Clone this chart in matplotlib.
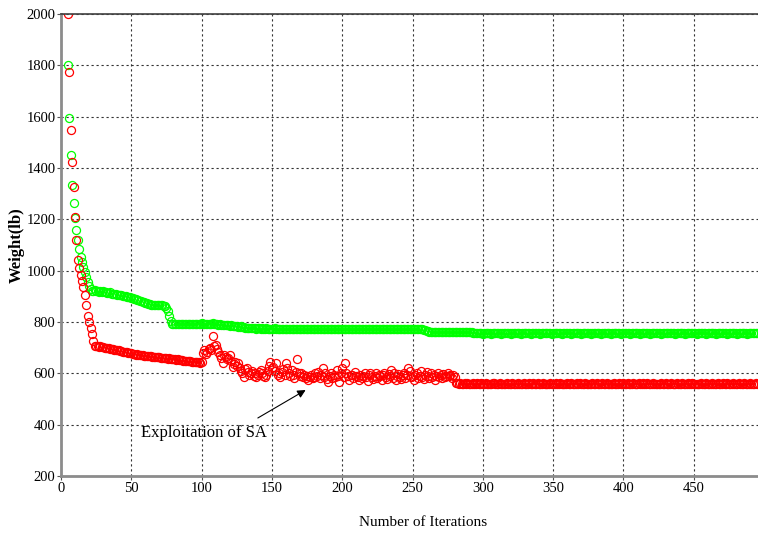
import numpy as np
import matplotlib
matplotlib.use("Agg")
import matplotlib.pyplot as plt

# ---------------- data ----------------
iterations = np.arange(5, 496)  # one point per iteration, 5..495

# Red series (with SA exploitation)
red_drop = [2000, 1775, 1550, 1425, 1325, 1210, 1120, 1040, 1010, 985,
            960, 935, 905, 865, 825, 800, 775, 752, 725, 708]            # 5-24
red_slow = [705, 706, 703, 705, 702, 704,                                  # 25-30
            700, 699, 697, 698, 695, 694, 695, 692, 691, 690,              # 31-40
            689, 687, 688, 685, 684, 683, 684, 681, 680, 678,              # 41-50
            676, 675, 673, 674, 672, 671, 672, 670, 669, 668,              # 51-60
            668, 667, 666, 667, 665, 664, 665, 663, 662, 663,              # 61-70
            661, 660, 661, 659, 658, 657, 658, 656, 655, 656,              # 71-80
            654, 653, 654, 652, 651, 652, 650, 649, 650, 648,              # 81-90
            647, 648, 646, 645, 646, 644, 643, 644, 642, 643]              # 91-100
red_noisy = [680, 690, 675, 685, 695, 700, 690, 745, 705, 710,             # 101-110
             695, 685, 670, 660, 640, 672, 665, 655, 660, 672,             # 111-120
             650, 626, 635, 645, 630, 640, 620, 610, 600, 587,             # 121-130
             615, 620, 605, 595, 600, 610, 590, 600, 587, 595,             # 131-140
             605, 613, 600, 590, 587, 595, 610, 630, 645, 620,             # 141-150
             626, 610, 640, 594, 600, 585, 605, 615, 595, 640,             # 151-160
             620, 600, 590, 612, 595, 580, 605, 655, 600, 590,             # 161-170
             600, 585, 595, 580, 590, 574, 585, 595, 580, 587,             # 171-180
             600, 590, 605, 580, 595, 620, 585, 600, 578, 568,             # 181-190
             590, 600, 580, 595, 585, 613, 590, 568, 600, 620,             # 191-200
             585, 640, 600, 590, 575, 595, 594, 580, 605, 590,             # 201-210
             585, 575, 595, 580, 590, 600, 585, 570, 595, 600,             # 211-220
             585, 578, 590, 600, 580, 595, 588, 575, 592, 600,             # 221-230
             585, 578, 596, 590, 613, 580, 600, 575, 590, 598,             # 231-240
             585, 578, 592, 600, 580, 595, 622, 610, 585, 590,             # 241-250
             575, 595, 600, 582, 590, 610, 585, 578, 595, 605,             # 251-260
             590, 580, 600, 585, 595, 575, 590, 600, 585, 595,             # 261-270
             580, 598, 585, 590, 600, 588, 595, 580, 592, 585]             # 271-280
red_tail = [562, 561, 560, 561, 560, 560, 562, 560, 561, 560, 559, 560, 561, 560, 560, 562, 560, 560, 561, 560,
            560, 561, 560, 559, 560, 560, 561, 563, 560, 560, 560, 561, 560, 560, 559, 560, 561, 560, 560, 560,
            561, 560, 560, 560, 562, 560, 559, 560, 561, 560, 560, 560, 561, 560, 560, 563, 560, 560, 561, 560,
            560, 560, 561, 560, 559, 560, 560, 561, 560, 560, 560, 562, 560, 560, 561, 560, 560, 559, 560, 561,
            560, 560, 561, 560, 560, 560, 562, 560, 561, 560, 560, 560, 561, 560, 559, 560, 560, 561, 560, 560,
            561, 560, 560, 560, 562, 560, 560, 561, 560, 560, 559, 560, 561, 560, 560, 560, 561, 560, 560, 562,
            560, 560, 561, 560, 560, 560, 561, 559, 560, 560, 561, 560, 560, 562, 560, 560, 561, 560, 560, 560,
            561, 560, 560, 560, 559, 560, 561, 560, 560, 562, 560, 560, 560, 561, 560, 560, 560, 561, 560, 560,
            560, 561, 560, 560, 560, 562, 560, 560, 561, 560, 560, 559, 560, 560, 561, 560, 560, 560, 561, 560,
            560, 560, 561, 560, 560, 560, 561, 560, 560, 560, 562, 560, 560, 561, 560, 560, 560, 561, 560, 560,
            560, 561, 560, 560, 560, 561, 560, 560, 560, 561, 560, 560, 560, 561, 560]   # 281-495

# Green series
green_drop = [1800, 1595, 1450, 1335, 1265, 1205, 1160, 1120, 1085, 1055,
              1035, 1015, 995, 975, 955, 940, 928]                          # 5-21
green_slow = [922, 920, 923, 919, 921, 918, 920, 917, 919,                  # 22-30
              916, 917, 914, 913, 915, 911, 910, 911, 908, 907,             # 31-40
              906, 904, 905, 902, 901, 902, 899, 897, 898, 895,             # 41-50
              893, 891, 890, 887, 885, 883, 881, 879, 877, 875,             # 51-60
              873, 871, 869, 868, 866, 866, 865, 867, 865, 866,             # 61-70
              865, 866, 864, 862, 855]                                      # 71-75
green_step = [842, 822, 802, 793, 792]                                      # 76-80
green_mid = [792, 793, 792, 794, 792, 791, 793, 792, 794, 792,              # 81-90
             793, 792, 791, 793, 792, 794, 792, 793, 792, 796,              # 91-100
             793, 792, 794, 792, 793, 792, 791, 798, 793, 792,              # 101-110
             791, 790, 792, 789, 790, 788, 787, 789, 788, 786,              # 111-120
             787, 785, 784, 786, 783, 782, 781, 783, 780, 779]              # 121-130
green_long = [778, 777, 778, 776, 777, 775, 776, 775, 774, 776, 775, 774,
              775, 773, 774, 775, 773, 774, 772, 774, 773, 775, 773, 772,
              774, 773, 772, 773, 774, 772, 773, 772, 774, 773, 772, 773,
              772, 774, 773, 772, 773, 771, 773, 772, 774, 772, 773, 772,
              773, 772, 771, 773, 772, 774, 772, 771, 773, 772, 773, 771,
              772, 773, 772, 771, 773, 772, 774, 772, 771, 772, 773, 771,
              772, 771, 773, 772, 771, 772, 773, 771, 772, 771, 772, 773,
              771, 772, 771, 773, 772, 771, 772, 771, 773, 772, 771, 772,
              771, 773, 772, 771, 772, 771, 772, 773, 771, 772, 771, 772,
              773, 771, 772, 771, 772, 771, 773, 772, 771, 772, 771, 772,
              771, 772, 771, 773, 772, 771, 772, 770, 768, 765, 763, 762]  # 131-262
green_lower = [761, 762, 761, 760, 761, 762, 761, 760, 761, 762, 761,
               760, 761, 762, 761, 760, 761, 761, 762, 760, 761, 760,
               761, 762, 761, 760, 761, 760, 761, 760, 759, 758, 757]      # 263-295
green_tail = [756, 756, 757, 756, 755, 756, 756, 757, 756, 756, 755, 756, 756, 757, 756, 756, 756, 755, 756, 756,
              756, 757, 756, 756, 755, 756, 756, 756, 758, 756, 756, 755, 756, 756, 757, 756, 756, 756, 755, 756,
              756, 756, 757, 756, 756, 755, 756, 756, 756, 757, 756, 756, 756, 755, 756, 756, 757, 756, 756, 756,
              755, 756, 756, 757, 756, 756, 756, 755, 756, 756, 756, 757, 756, 756, 755, 756, 756, 756, 757, 756,
              756, 755, 756, 756, 757, 756, 756, 756, 755, 756, 756, 756, 757, 756, 756, 755, 756, 756, 756, 757,
              756, 756, 755, 756, 756, 757, 756, 756, 756, 755, 756, 756, 757, 756, 756, 756, 755, 756, 756, 756,
              757, 756, 756, 755, 756, 756, 756, 757, 756, 756, 756, 755, 756, 756, 757, 756, 756, 756, 758, 756,
              756, 755, 756, 756, 756, 757, 756, 756, 755, 756, 756, 756, 757, 756, 756, 756, 755, 756, 756, 757,
              756, 756, 756, 755, 756, 756, 756, 757, 756, 756, 755, 756, 756, 756, 757, 756, 756, 756, 755, 756,
              756, 757, 756, 756, 756, 755, 756, 756, 756, 757, 756, 756, 755, 756, 756, 756, 757, 756, 756, 756]  # 296-495

red_values = np.array(red_drop + red_slow + red_noisy + red_tail)
green_values = np.array(green_drop + green_slow + green_step + green_mid +
                        green_long + green_lower + green_tail)

x_ticks = [0, 50, 100, 150, 200, 250, 300, 350, 400, 450]
y_ticks = [200, 400, 600, 800, 1000, 1200, 1400, 1600, 1800, 2000]

annotation_text = 'Exploitation of SA'
arrow_head = (174, 535)
arrow_tail = (140, 426)
text_pos = (57, 366)

# ---------------- figure ----------------
plt.rcParams['font.family'] = ['Liberation Serif', 'DejaVu Serif']

W, H = 758, 536
fig = plt.figure(figsize=(W / 100, H / 100), dpi=100)
left_px, right_px, top_px, bottom_px = 61, 764, 14, 476
ax = fig.add_axes([left_px / W, 1 - bottom_px / H,
                   (right_px - left_px) / W, (bottom_px - top_px) / H])

ax.plot(iterations, green_values, linestyle='none', marker='o', markersize=5.8,
        markerfacecolor='none', markeredgecolor='#00ff00', markeredgewidth=0.9)
ax.plot(iterations, red_values, linestyle='none', marker='o', markersize=5.8,
        markerfacecolor='none', markeredgecolor='#ff0000', markeredgewidth=0.9)

ax.set_xlim(0, 500)
ax.set_ylim(200, 2000)
ax.set_xticks(x_ticks)
ax.set_yticks(y_ticks)

ax.grid(True, color='#333333', linestyle=(0, (2, 2.5)), linewidth=0.8)
ax.set_axisbelow(True)

for side in ['left', 'bottom']:
    ax.spines[side].set_color('#8c8c8c')
    ax.spines[side].set_linewidth(2.0)
ax.spines['top'].set_color('#404040')
ax.spines['top'].set_linewidth(1.2)
ax.spines['right'].set_visible(False)

ax.tick_params(axis='both', direction='out', length=3, width=0.8, color='#555555',
               labelsize=10.5, pad=1)

ax.set_xlabel('Number of Iterations', fontsize=11)
ax.xaxis.set_label_coords(0.515, -0.086)
ax.set_ylabel('Weight(lb)', fontsize=12, fontweight='bold')
ax.yaxis.set_label_coords(-0.052, 0.5)

ax.annotate('', xy=arrow_head, xytext=arrow_tail,
            arrowprops=dict(arrowstyle='-|>', color='black', lw=0.8,
                            shrinkA=0, shrinkB=0, mutation_scale=12))
ax.text(text_pos[0], text_pos[1], annotation_text, fontsize=12,
        ha='left', va='center')

fig.savefig('out.png', dpi=100)
